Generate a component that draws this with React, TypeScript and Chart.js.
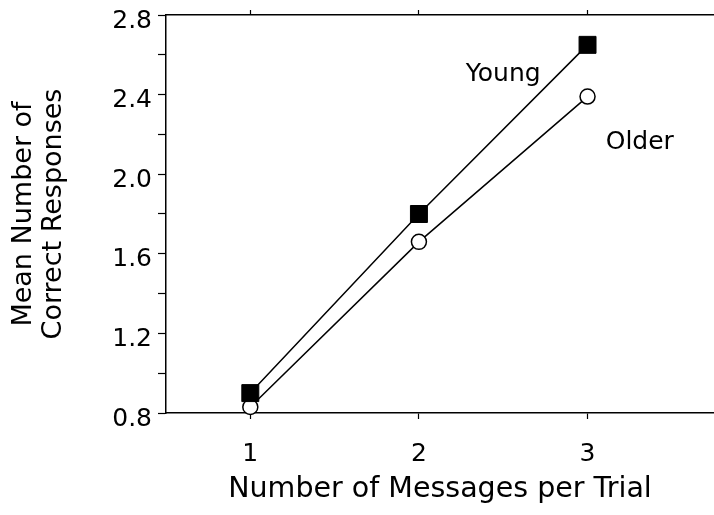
import React, { useEffect, useRef } from "react";
import { Chart, registerables } from "chart.js";

Chart.register(...registerables);

const messages = [1, 2, 3];
const youngValues = [0.9, 1.8, 2.65];
const olderValues = [0.83, 1.66, 2.39];
const yTickLabels = [0.8, 1.2, 1.6, 2.0, 2.4, 2.8];
const seriesLabels = ["Young", "Older"];
const labelPositions = [
  { x: 2.5, y: 2.5 },
  { x: 3.31, y: 2.16 },
];

const FONT = "'DejaVu Sans', 'Liberation Sans', Arial, sans-serif";

const textLabelPlugin = {
  id: "textLabels",
  afterDatasetsDraw(chart: any) {
    const { ctx, scales } = chart;
    ctx.save();
    ctx.fillStyle = "#000";
    ctx.font = `25px ${FONT}`;
    ctx.textAlign = "center";
    ctx.textBaseline = "middle";
    seriesLabels.forEach((t, i) => {
      const p = labelPositions[i];
      ctx.fillText(t, scales.x.getPixelForValue(p.x), scales.y.getPixelForValue(p.y));
    });
    ctx.restore();
  },
};

export default function App() {
  const ref = useRef<HTMLCanvasElement>(null);
  useEffect(() => {
    document.body.style.margin = "0";
    document.body.style.background = "#fff";
    document.body.style.overflow = "hidden";
    const chart = new Chart(ref.current!, {
      type: "line",
      data: {
        datasets: [
          {
            label: seriesLabels[0],
            data: messages.map((m, i) => ({ x: m, y: youngValues[i] })),
            borderColor: "#000",
            borderWidth: 1.5,
            pointStyle: "rect",
            pointRadius: 12,
            pointBackgroundColor: "#000",
            pointBorderColor: "#000",
            pointBorderWidth: 1,
            clip: false,
          },
          {
            label: seriesLabels[1],
            data: messages.map((m, i) => ({ x: m, y: olderValues[i] })),
            borderColor: "#000",
            borderWidth: 1.5,
            pointStyle: "circle",
            pointRadius: 7.5,
            pointBackgroundColor: "#fff",
            pointBorderColor: "#000",
            pointBorderWidth: 1.5,
            clip: false,
          },
        ],
      },
      options: {
        responsive: false,
        animation: false,
        layout: { padding: 0, autoPadding: false },
        plugins: { legend: { display: false }, tooltip: { enabled: false } },
        scales: {
          x: {
            type: "linear",
            position: "bottom",
            min: 0.5,
            max: 3.75,
            afterBuildTicks: (s: any) => {
              s.ticks = messages.map((v) => ({ value: v }));
            },
            afterFit: (s: any) => {
              s.height = 102;
              s.paddingLeft = 0;
              s.paddingRight = 0;
            },
            grid: { drawOnChartArea: false, tickLength: 6, tickColor: "#000", tickWidth: 1.2 },
            border: { display: true, color: "#000", width: 1.5 },
            ticks: { color: "#000", font: { family: FONT, size: 25 }, padding: 20, maxRotation: 0 },
            title: {
              display: true,
              text: "Number of Messages per Trial",
              color: "#000",
              font: { family: FONT, size: 28.5, lineHeight: 1.2 },
              padding: { top: 4, bottom: 8 },
            },
          },
          x2: {
            type: "linear",
            position: "top",
            min: 0.5,
            max: 3.75,
            afterBuildTicks: (s: any) => {
              s.ticks = messages.map((v) => ({ value: v }));
            },
            afterFit: (s: any) => {
              s.height = 15;
              s.paddingLeft = 0;
              s.paddingRight = 0;
            },
            grid: { drawOnChartArea: false, tickLength: 5, tickColor: "#000", tickWidth: 1.2 },
            border: { display: true, color: "#000", width: 1.5 },
            ticks: { display: false },
          },
          y: {
            type: "linear",
            min: 0.8,
            max: 2.8,
            afterBuildTicks: (s: any) => {
              const t: any[] = [];
              for (let i = 0; i <= 10; i++) t.push({ value: 0.8 + i * 0.2 });
              s.ticks = t;
            },
            afterFit: (s: any) => {
              s.width = 166;
              s.paddingTop = 0;
              s.paddingBottom = 0;
            },
            grid: { drawOnChartArea: false, tickLength: 8, tickColor: "#000", tickWidth: 1.2 },
            border: { display: true, color: "#000", width: 1.5 },
            ticks: {
              color: "#000",
              font: { family: FONT, size: 25 },
              padding: 6,
              labelOffset: 6,
              callback: (v: any) => {
                const n = Math.round(Number(v) * 10) / 10;
                const hit = yTickLabels.find((l) => Math.abs(l - n) < 1e-6 && Math.abs(Number(v) - n) < 1e-6);
                return hit !== undefined ? hit.toFixed(1) : "";
              },
            },
            title: {
              display: true,
              text: ["Mean Number of", "Correct Responses"],
              color: "#000",
              font: { family: FONT, size: 27, lineHeight: 1.1 },
              padding: { top: 9, bottom: 0 },
            },
          },
        },
      },
      plugins: [textLabelPlugin],
    } as any);
    return () => chart.destroy();
  }, []);
  return (
    <div style={{ width: 714, height: 515, background: "#fff", overflow: "hidden" }}>
      <canvas ref={ref} width={714} height={515} style={{ display: "block" }} />
    </div>
  );
}
